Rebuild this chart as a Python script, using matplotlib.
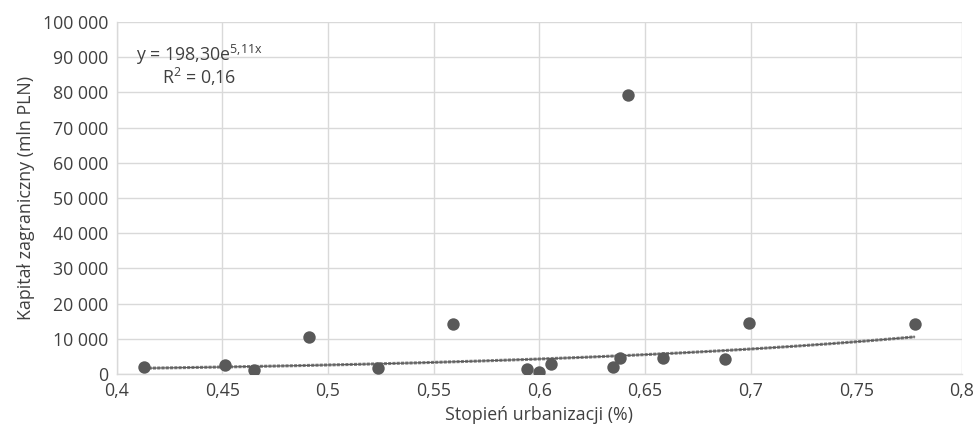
import numpy as np
import matplotlib
matplotlib.use('Agg')
import matplotlib.pyplot as plt
from matplotlib.ticker import FuncFormatter

plt.rcParams['font.family'] = ['Open Sans', 'DejaVu Sans']
plt.rcParams['mathtext.default'] = 'regular'

# urbanisation rate vs foreign capital (mln PLN)
urbanizacja = [0.4131, 0.4512, 0.465, 0.4911, 0.5238, 0.5592, 0.5944, 0.600,
               0.6053, 0.6349, 0.6381, 0.642, 0.6583, 0.6877, 0.6993, 0.7776]
kapital = [2050, 2560, 1140, 10420, 1610, 14290, 1510, 480,
           2840, 2070, 4450, 79260, 4640, 4350, 14580, 14200]

# exponential trendline y = a * e^(b x)
trend_a = 198.30
trend_b = 5.11
trend_line1 = 'y = 198,30e$^{5{,}11x}$'
trend_line2 = 'R$^{2}$ = 0,16'

fig = plt.figure(figsize=(9.79, 4.37), dpi=100)
ax = fig.add_axes([0.1192, 0.1442, 0.8634, 0.8055])

grid_col = '#d9d9d9'
txt_col = '#404040'
fs = 12.8

xs = np.linspace(min(urbanizacja), max(urbanizacja), 200)
ax.plot(xs, trend_a * np.exp(trend_b * xs), color='#7f7f7f', lw=2.2,
        linestyle=(0, (1, 0.4)), zorder=2)
ax.plot(xs, trend_a * np.exp(trend_b * xs), color='#595959', lw=0.8, zorder=2)
ax.scatter(urbanizacja, kapital, s=80, color='#595959', zorder=3, linewidths=0)

ax.set_xlim(0.4, 0.8)
ax.set_ylim(0, 100000)
ax.set_xticks(np.arange(0.4, 0.801, 0.05))
ax.set_yticks(np.arange(0, 100001, 10000))


def fmt_x(v, pos):
    s = ('%.2f' % v).rstrip('0').rstrip('.')
    return s.replace('.', ',')


def fmt_y(v, pos):
    return '{:,.0f}'.format(v).replace(',', ' ')


ax.xaxis.set_major_formatter(FuncFormatter(fmt_x))
ax.yaxis.set_major_formatter(FuncFormatter(fmt_y))
ax.grid(True, color=grid_col, lw=1)
ax.set_axisbelow(True)
for s in ['top', 'right']:
    ax.spines[s].set_visible(False)
for s in ['left', 'bottom']:
    ax.spines[s].set_color(grid_col)
    ax.spines[s].set_linewidth(1)
ax.tick_params(length=0, labelsize=fs, labelcolor=txt_col, pad=6)

ax.set_xlabel('Stopień urbanizacji (%)', fontsize=fs, color=txt_col, labelpad=4)
ax.set_ylabel('Kapitał zagraniczny (mln PLN)', fontsize=fs, color=txt_col, labelpad=6)

ax.text(0.4092, 88800, trend_line1, fontsize=fs, color=txt_col, ha='left', va='baseline')
ax.text(0.4213, 82300, trend_line2, fontsize=fs, color=txt_col, ha='left', va='baseline')

fig.savefig('out.png', dpi=100)
